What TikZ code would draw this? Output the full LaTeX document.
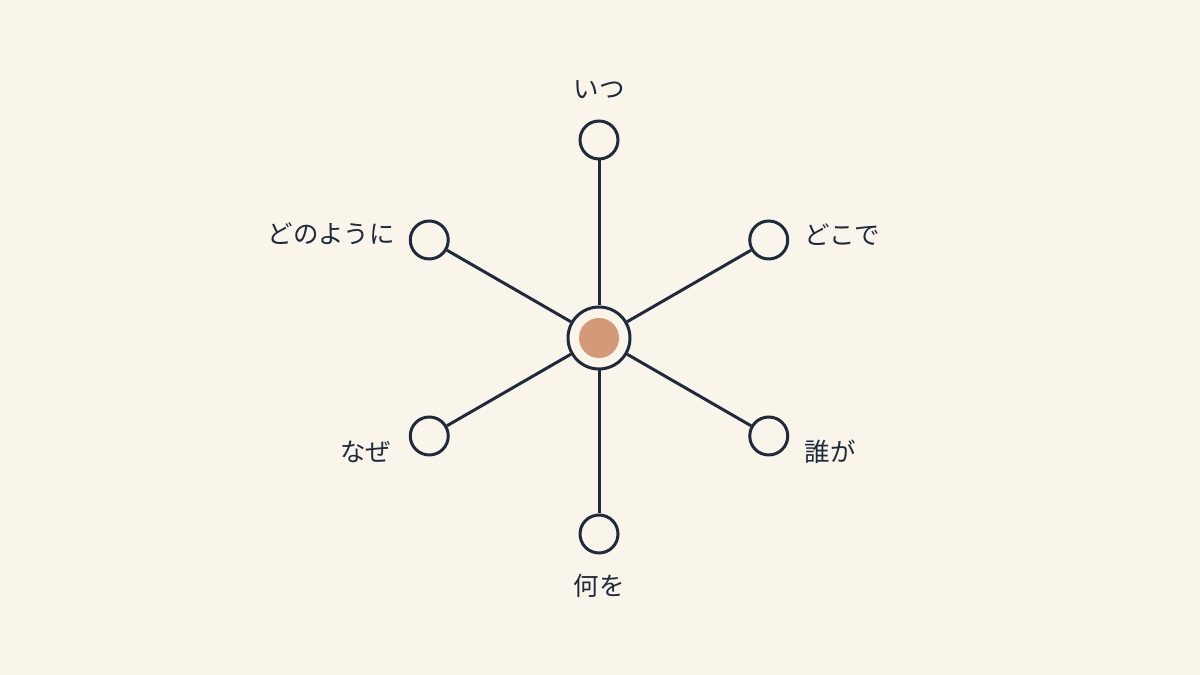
\documentclass[tikz,border=0pt]{standalone}
\usepackage{fontspec}
\setmainfont{Noto Sans CJK JP}
\usetikzlibrary{positioning}
\definecolor{paper}{HTML}{F9F5EA}
\definecolor{ink}{HTML}{1F2A3C}
\definecolor{clay}{HTML}{D49A78}

\begin{document}
\begin{tikzpicture}[x=0.02cm,y=0.02cm,
  spoke/.style={circle,draw=ink,line width=0.06cm,fill=paper,minimum size=0.76cm,inner sep=0pt},
  hub/.style={circle,draw=ink,line width=0.06cm,fill=paper,minimum size=1.24cm,inner sep=0pt},
  core/.style={circle,fill=clay,minimum size=0.8cm,inner sep=0pt},
  word/.style={text=ink,inner sep=0pt,font=\fontsize{14.5pt}{17pt}\selectfont},
  link/.style={draw=ink,line width=0.06cm}]
% Background
\fill[paper] (0,0) rectangle (1200,675);
% arm length of the star
\newcommand{\armlen}{196}
\coordinate (mid) at (599,337);

% Hub
\node[hub] (hub) at (mid) {};
\node[core] (dot) at (hub) {};
% Spokes
\node[spoke] (when)  at ([shift={(90:\armlen+2)}]mid) {};
\node[spoke] (where) at ([shift={(30:\armlen)}]mid) {};
\node[spoke] (who)   at ([shift={(-30:\armlen)}]mid) {};
\node[spoke] (what)  at ([shift={(-90:\armlen)}]mid) {};
\node[spoke] (why)   at ([shift={(-150:\armlen)}]mid) {};
\node[spoke] (how)   at ([shift={(150:\armlen)}]mid) {};
% Links
\foreach \n in {when,where,who,what,why,how}
  \draw[link] (hub) -- (\n);

% Labels
\node[word, above=0.4cm of when] (whenL) {いつ};
\node[word, right=0.3cm of where, yshift=0.11cm] (whereL) {どこで};
\node[word, right=0.3cm of who, yshift=-0.32cm] (whoL) {誰が};
\node[word, below=0.39cm of what] (whatL) {何を};
\node[word, left=0.34cm of why, yshift=-0.32cm] (whyL) {なぜ};
\node[word, left=0.27cm of how, yshift=0.12cm] (howL) {どのように};
\end{tikzpicture}
\end{document}
